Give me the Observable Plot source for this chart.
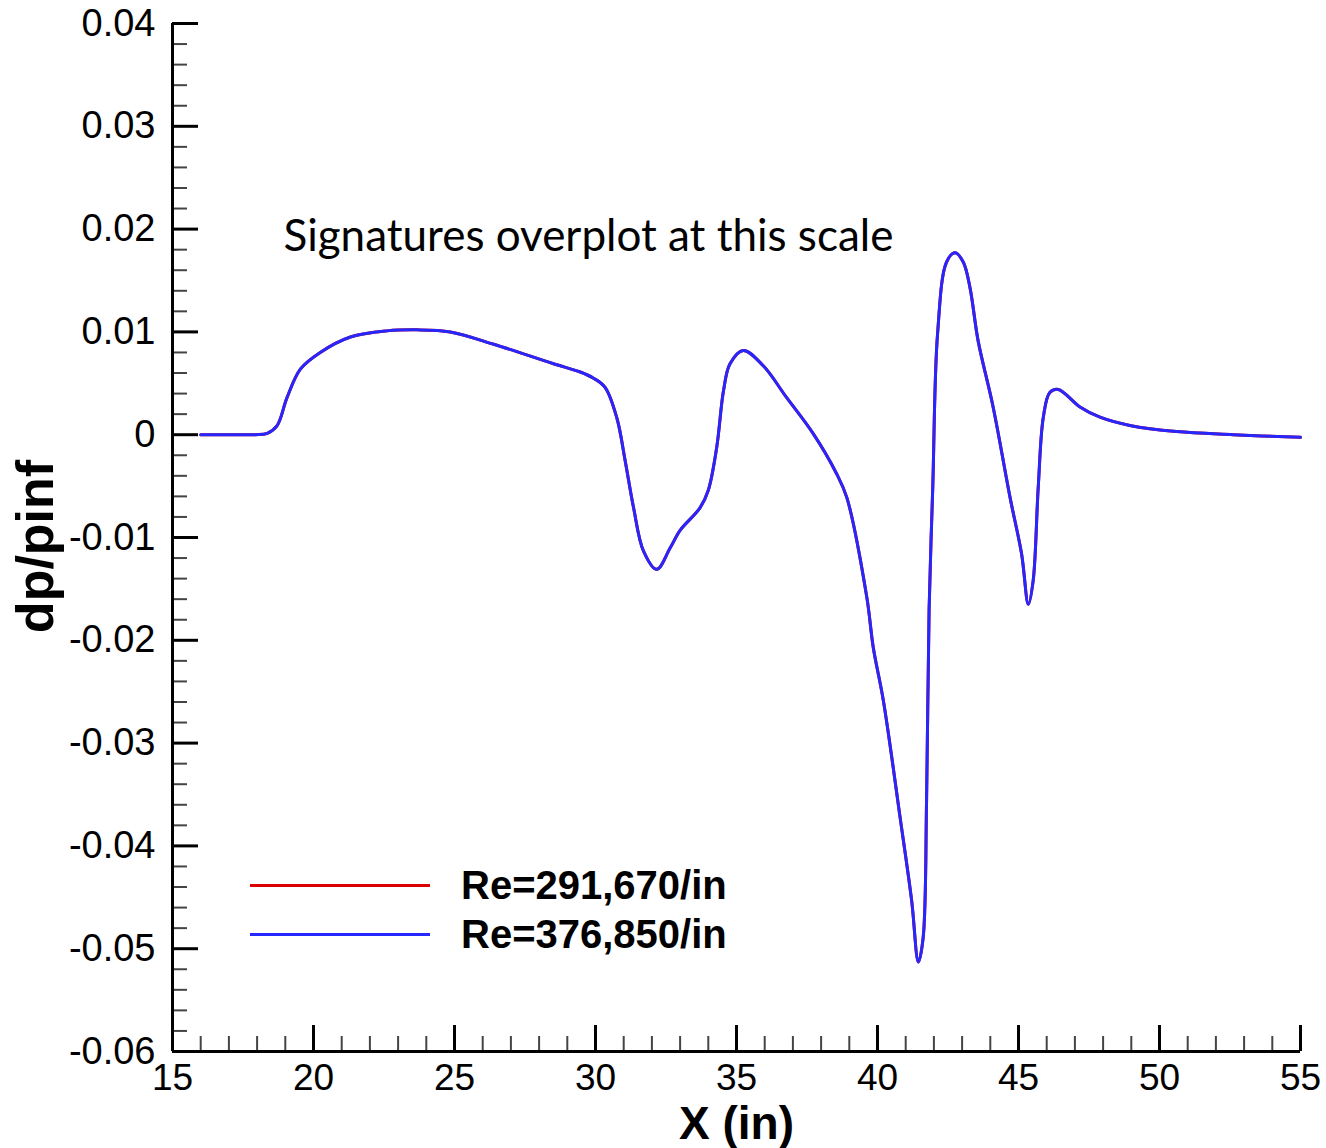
<!DOCTYPE html>
<html>
<head>
<meta charset="utf-8">
<script src="https://cdn.jsdelivr.net/npm/d3@7"></script>
<script src="https://cdn.jsdelivr.net/npm/@observablehq/plot@0.6"></script>
<style>
  html, body { margin: 0; padding: 0; background: #fff; }
  #wrap { position: relative; width: 1326px; height: 1148px; }
  #legend { position: absolute; left: 250px; top: 861px; font-family: "Liberation Sans", Arial, sans-serif; font-weight: bold; font-size: 40px; }
  .row { display: flex; align-items: center; height: 49px; }
  .swatch { width: 180px; height: 3px; margin-right: 31px; }
</style>
</head>
<body>
<div id="wrap"><div id="legend"></div></div>
<script>
// ---- data ----
const seriesNames = ["Re=291,670/in", "Re=376,850/in"];
const seriesColors = ["#dd0000", "#2626ff"];
const xIn = [16.0, 17.0, 17.94, 18.36, 18.71, 19.06, 19.54, 20.24, 21.31, 22.61, 23.67, 24.85, 26.39, 28.51, 29.46, 29.93, 30.34, 30.76, 31.05, 31.35, 31.70, 32.17, 32.65, 33.00, 33.71, 34.00, 34.30, 34.54, 34.77, 35.24, 35.95, 36.78, 37.72, 38.55, 38.91, 39.62, 39.85, 40.21, 40.80, 41.21, 41.45, 41.62, 41.74, 41.83, 41.96, 42.13, 42.45, 42.75, 43.04, 43.28, 43.57, 44.10, 44.70, 45.11, 45.35, 45.52, 45.70, 45.88, 46.11, 46.41, 47.18, 47.89, 48.95, 50.60, 52.61, 55.0];
const dpRe291 = [0, 0, 0.00000, 0.00013, 0.00088, 0.0036, 0.0064, 0.0080, 0.0095, 0.0101, 0.0102, 0.0100, 0.0088, 0.0069, 0.0061, 0.0055, 0.0046, 0.0016, -0.0025, -0.0071, -0.0113, -0.0131, -0.0110, -0.0093, -0.0071, -0.0054, -0.0012, 0.0043, 0.0069, 0.0082, 0.0067, 0.0036, 0.0001, -0.0038, -0.0061, -0.0158, -0.0207, -0.0259, -0.0372, -0.0453, -0.0513, -0.0489, -0.0356, -0.0170, -0.0051, 0.0098, 0.0168, 0.0177, 0.0168, 0.0143, 0.0091, 0.0027, -0.0061, -0.0116, -0.0165, -0.0142, -0.0051, 0.0017, 0.0041, 0.0044, 0.0027, 0.0017, 0.0009, 0.0003, 0.0000, -0.00026];
const dpRe376 = [0, 0, 0.00000, 0.00013, 0.00088, 0.0036, 0.0064, 0.0080, 0.0095, 0.0101, 0.0102, 0.0100, 0.0088, 0.0069, 0.0061, 0.0055, 0.0046, 0.0016, -0.0025, -0.0071, -0.0113, -0.0131, -0.0110, -0.0093, -0.0071, -0.0054, -0.0012, 0.0043, 0.0069, 0.0082, 0.0067, 0.0036, 0.0001, -0.0038, -0.0061, -0.0158, -0.0207, -0.0259, -0.0372, -0.0453, -0.0513, -0.0489, -0.0356, -0.0170, -0.0051, 0.0098, 0.0168, 0.0177, 0.0168, 0.0143, 0.0091, 0.0027, -0.0061, -0.0116, -0.0165, -0.0142, -0.0051, 0.0017, 0.0041, 0.0044, 0.0027, 0.0017, 0.0009, 0.0003, 0.0000, -0.00026];
const xMajorTicks = [15, 20, 25, 30, 35, 40, 45, 50, 55];
const yMajorTicks = [-0.06, -0.05, -0.04, -0.03, -0.02, -0.01, 0, 0.01, 0.02, 0.03, 0.04];
const xMinorTicks = d3.range(16, 55, 1).filter(v => v % 5 !== 0);
const yMinorTicks = d3.range(-60, 40, 2).filter(v => v % 10 !== 0).map(v => v / 1000);
const annotation = "Signatures overplot at this scale";
const xTitle = "X (in)";
const yTitle = "dp/pinf";

// ---- layout ----
const W = 1326, H = 1148;
const mL = 172, mR = 26, mT = 23, mB = 97;
const xDom = [15, 55], yDom = [-0.06, 0.04];
const pxPerX = (W - mL - mR) / (xDom[1] - xDom[0]);
const pxPerY = (H - mT - mB) / (yDom[1] - yDom[0]);
const majorLen = 26, minorLen = 15;

const rows = [];
[dpRe291, dpRe376].forEach((arr, s) => {
  xIn.forEach((x, i) => rows.push({x, y: arr[i], series: seriesNames[s]}));
});

const font = "'Liberation Sans', Arial, Helvetica, sans-serif";

const chart = Plot.plot({
  width: W, height: H,
  marginLeft: mL, marginRight: mR, marginTop: mT, marginBottom: mB,
  style: {fontFamily: font, background: "#fff", overflow: "visible"},
  x: {domain: xDom},
  y: {domain: yDom},
  color: {domain: seriesNames, range: seriesColors},
  marks: [
    // minor & major ticks (inward)
    Plot.ruleX(xMinorTicks, {x: d => d, y1: yDom[0], y2: yDom[0] + minorLen / pxPerY, stroke: "#444", strokeWidth: 2}),
    Plot.ruleX(xMajorTicks, {x: d => d, y1: yDom[0], y2: yDom[0] + majorLen / pxPerY, stroke: "#000", strokeWidth: 3}),
    Plot.ruleY(yMinorTicks, {y: d => d, x1: xDom[0], x2: xDom[0] + minorLen / pxPerX, stroke: "#444", strokeWidth: 2}),
    Plot.ruleY(yMajorTicks, {y: d => d, x1: xDom[0], x2: xDom[0] + majorLen / pxPerX, stroke: "#000", strokeWidth: 3}),
    // axis lines
    Plot.ruleX([xDom[0]], {y1: yDom[0], y2: yDom[1], stroke: "#000", strokeWidth: 3}),
    Plot.ruleY([yDom[0]], {x1: xDom[0], x2: xDom[1], stroke: "#000", strokeWidth: 3}),
    // tick labels
    Plot.axisX(xMajorTicks, {tickSize: 0, tickPadding: 12, fontSize: 37, tickFormat: d => String(d), label: null}),
    Plot.axisY(yMajorTicks, {tickSize: 0, tickPadding: 17, fontSize: 38, tickFormat: d => d === 0 ? "0" : d.toFixed(2), label: null}),
    // series
    Plot.line(rows, {x: "x", y: "y", z: "series", stroke: "series", strokeWidth: 3, curve: "catmull-rom"}),
    // annotation
    Plot.text([annotation], {frameAnchor: "top-left", dx: 111, dy: 213, lineAnchor: "middle", text: d => d, textAnchor: "start", fontSize: 44, fontFamily: "Lato, 'Open Sans', sans-serif", fill: "#000"}),
    // axis titles
    Plot.text([xTitle], {frameAnchor: "bottom", dy: 73, lineAnchor: "middle", text: d => d, fontSize: 46, fontWeight: "bold", fill: "#000"}),
    Plot.text([yTitle], {frameAnchor: "left", dx: -136, dy: 9, rotate: -90, textAnchor: "middle", lineAnchor: "middle", text: d => d, fontSize: 52, fontWeight: "bold", fill: "#000"})
  ]
});
document.getElementById("wrap").prepend(chart);

// legend (inside plot area, lower-left)
const legend = document.getElementById("legend");
seriesNames.forEach((name, i) => {
  const row = document.createElement("div");
  row.className = "row";
  const sw = document.createElement("div");
  sw.className = "swatch";
  sw.style.background = seriesColors[i];
  const t = document.createElement("span");
  t.textContent = name;
  row.append(sw, t);
  legend.append(row);
});
</script>
</body>
</html>
